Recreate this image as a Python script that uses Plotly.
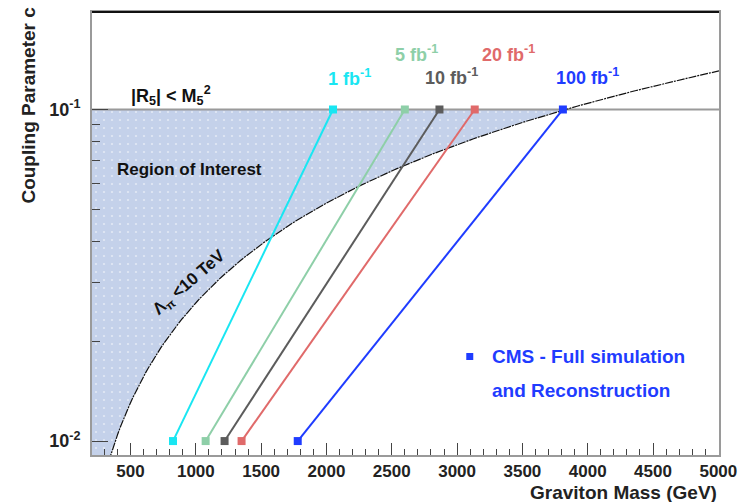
import numpy as np
import plotly.graph_objects as go

# Discovery reach lines: graviton mass reached at c = 0.01 and c = 0.1
lumi_labels = ["1 fb<sup>-1</sup>", "5 fb<sup>-1</sup>", "10 fb<sup>-1</sup>",
               "20 fb<sup>-1</sup>", "100 fb<sup>-1</sup>"]
lumi_colors = ["#19e6f2", "#8ecfa8", "#5c5c5c", "#e06a6a", "#1f3cff"]
mass_at_c_low = [825, 1075, 1220, 1350, 1780]
mass_at_c_high = [2050, 2600, 2865, 3135, 3810]
coupling_ends = [0.01, 0.1]

# label anchor points (mass, log10 c)
label_mass = [2180, 2690, 2960, 3395, 4000]
label_logc = [-0.904, -0.832, -0.901, -0.832, -0.901]

# Theory constraints
LAMBDA_PI = 10000.0   # GeV, Lambda_pi bound
X1 = 3.83             # first zero of Bessel J1
C_MAX = 0.1           # |R5| < M5^2 bound

X_RANGE = [205, 5005]
LOGC_RANGE = [-2.042, -0.706]

FONT = "Liberation Sans, Arial, sans-serif"

fig = go.Figure()

# Region of interest: below c = 0.1, above the Lambda_pi = 10 TeV curve
m_edge = X1 * C_MAX * LAMBDA_PI
c_floor = 10 ** (LOGC_RANGE[0] - 0.02)
m_curve = np.linspace(m_edge, X1 * c_floor * LAMBDA_PI, 120)
c_curve = m_curve / (X1 * LAMBDA_PI)
fig.add_trace(go.Scatter(
    x=[150, m_edge] + list(m_curve) + [150],
    y=[C_MAX, C_MAX] + list(c_curve) + [c_floor],
    fill="toself", mode="none",
    fillcolor="#c6d3eb",
    fillpattern=dict(shape=".", bgcolor="#c4d1ea", fgcolor="#ffffff",
                     size=8, solidity=0.06),
    hoverinfo="skip", showlegend=False,
))

# c = 0.1 boundary
fig.add_trace(go.Scatter(
    x=[X_RANGE[0], X_RANGE[1]], y=[C_MAX, C_MAX], mode="lines",
    line=dict(color="#9a9a9a", width=2), hoverinfo="skip", showlegend=False,
))

# Lambda_pi = 10 TeV curve
m_line = np.linspace(X1 * c_floor * LAMBDA_PI, X_RANGE[1], 200)
fig.add_trace(go.Scatter(
    x=m_line, y=m_line / (X1 * LAMBDA_PI), mode="lines",
    line=dict(color="#111111", width=1.2, dash="8px,1px,2px,1px"),
    hoverinfo="skip", showlegend=False,
))

# Reach lines per integrated luminosity
for lo, hi, col, lab, lm, lc in zip(mass_at_c_low, mass_at_c_high, lumi_colors,
                                     lumi_labels, label_mass, label_logc):
    fig.add_trace(go.Scatter(
        x=[lo, hi], y=coupling_ends, mode="lines+markers",
        line=dict(color=col, width=2),
        marker=dict(symbol="square", size=8, color=col),
        hoverinfo="skip", showlegend=False,
    ))
    fig.add_annotation(x=lm, y=lc, text=lab, showarrow=False,
                       font=dict(family=FONT, size=18, color=col, weight="bold"))

# Legend entry drawn as marker + text
fig.add_trace(go.Scatter(
    x=[3097], y=[10 ** -1.745], mode="markers",
    marker=dict(symbol="square", size=7, color="#1f3cff"),
    hoverinfo="skip", showlegend=False,
))
fig.add_annotation(x=3250, y=-1.745, text="CMS - Full simulation", showarrow=False,
                   xanchor="left", font=dict(family=FONT, size=19, color="#1f3cff", weight="bold"))
fig.add_annotation(x=3250, y=-1.847, text="and Reconstruction", showarrow=False,
                   xanchor="left", font=dict(family=FONT, size=19, color="#1f3cff", weight="bold"))

# Region texts
fig.add_annotation(x=809, y=-0.958, text="|R<sub>5</sub>| < M<sub>5</sub><sup>2</sup>",
                   showarrow=False, font=dict(family=FONT, size=18, color="#111", weight="bold"))
fig.add_annotation(x=955, y=-1.180, text="Region of Interest", showarrow=False,
                   font=dict(family=FONT, size=17, color="#111", weight="bold"))
fig.add_annotation(x=955, y=-1.5225, text="Λ<sub>π</sub> <10 TeV", showarrow=False,
                   textangle=-41, font=dict(family=FONT, size=17, color="#111", weight="bold"))

# Axis titles
fig.add_annotation(xref="paper", yref="paper", x=1.0, y=-0.085, xanchor="right",
                   yanchor="middle", text="Graviton Mass (GeV)", showarrow=False,
                   font=dict(family=FONT, size=19, color="#222", weight="bold"))
fig.add_annotation(xref="paper", yref="paper", x=-0.1005, y=0.791, xanchor="center",
                   yanchor="middle", textangle=-90, text="Coupling Parameter c",
                   showarrow=False, font=dict(family=FONT, size=19, color="#222", weight="bold"))

# Top frame line
fig.add_shape(type="line", xref="paper", yref="paper", x0=0, x1=1, y0=1, y1=1,
              line=dict(color="#111", width=2))

fig.update_layout(
    width=753, height=502,
    margin=dict(l=92, r=34, t=10, b=47),
    paper_bgcolor="white", plot_bgcolor="white",
    showlegend=False,
    xaxis=dict(
        range=X_RANGE, tickmode="array",
        tickvals=[500, 1000, 1500, 2000, 2500, 3000, 3500, 4000, 4500, 5000],
        ticks="inside", ticklen=12, tickcolor="#444", tickwidth=1,
        minor=dict(dtick=100, tick0=0, ticks="inside", ticklen=6, tickcolor="#444"),
        showline=True, linecolor="#9a9a9a", linewidth=2, mirror=True,
        showgrid=False, zeroline=False, ticklabelstandoff=0,
        tickfont=dict(family=FONT, size=17, color="#222", weight="bold"),
    ),
    yaxis=dict(
        type="log", range=LOGC_RANGE, tickmode="array",
        tickvals=[0.01, 0.1], ticktext=["10<sup>-2</sup>", "10<sup>-1</sup>"],
        ticks="inside", ticklen=16, tickcolor="#444",
        minor=dict(tickmode="array", tickvals=[0.02, 0.03, 0.04, 0.05, 0.06, 0.07, 0.08, 0.09],
                   ticks="inside", ticklen=8, tickcolor="#444"),
        showline=True, linecolor="#9a9a9a", linewidth=2, mirror=True,
        showgrid=False, zeroline=False, ticklabelstandoff=6,
        tickfont=dict(family=FONT, size=18, color="#222", weight="bold"),
    ),
)

fig.write_html("out.html")
